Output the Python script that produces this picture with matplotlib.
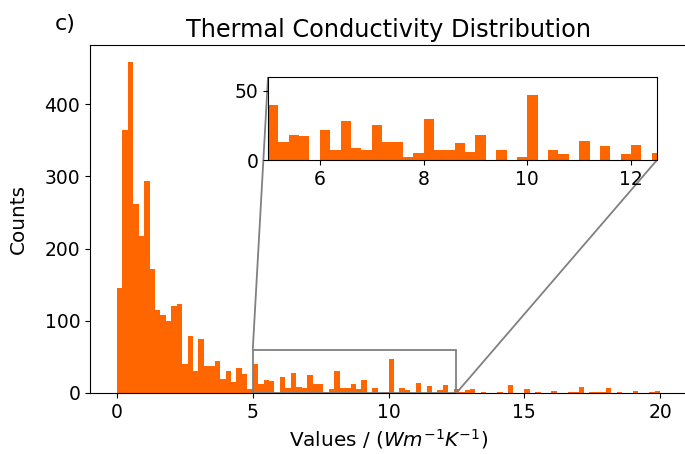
import numpy as np
import matplotlib
matplotlib.use('Agg')
import matplotlib.pyplot as plt
from mpl_toolkits.axes_grid1.inset_locator import mark_inset

# histogram bin edges (0.2 wide, 0 to 20) and counts
bin_edges = np.round(np.arange(0, 20.0001, 0.2), 1)
counts = [
    145, 364, 459, 262, 218, 293, 172, 115, 108, 100,
    120, 123, 40, 79, 31, 75, 37, 37, 44, 20,
    31, 15, 34, 27, 6, 40, 13, 18, 17, 0,
    22, 7, 28, 9, 7, 25, 13, 13, 2, 5,
    30, 7, 7, 12, 6, 18, 0, 7, 0, 2,
    47, 0, 7, 4, 0, 14, 0, 10, 0, 4,
    11, 0, 5, 1, 4, 6, 0, 2, 0, 0,
    2, 0, 11, 0, 0, 5, 0, 2, 0, 0,
    3, 0, 0, 1, 1, 8, 0, 1, 1, 1,
    7, 0, 1, 0, 0, 3, 0, 0, 2, 3,
]
bin_mids = (bin_edges[:-1] + bin_edges[1:]) / 2

main_xticks = [0, 5, 10, 15, 20]
main_yticks = [0, 100, 200, 300, 400]
inset_xlim = (5, 12.5)
inset_ylim = (0, 60)
inset_xticks = [6, 8, 10, 12]
inset_yticks = [0, 50]

color = '#ff6600'

fig = plt.figure(figsize=(6.85, 4.54), dpi=100)
# main axes runs past the right edge of the figure (cropped like the original)
ax = fig.add_axes([90/685, 61/454, 620/685, 348/454])
ax.hist(bin_mids, bins=bin_edges, weights=counts, color=color)
ax.set_xlim(-0.995, 21.84)
ax.set_xticks(main_xticks)
ax.set_yticks(main_yticks)
ax.tick_params(labelsize=13.5)
ax.set_xlabel(r'Values / ($Wm^{-1}K^{-1}$)', fontsize=14.4, x=(389 - 90) / 620)
ax.set_ylabel('Counts', fontsize=14.4, labelpad=12)
ax.set_title('Thermal Conductivity Distribution', fontsize=17.3, x=(389 - 90) / 620)
fig.text(55/685, 1 - 24/454, 'c)', fontsize=16, va='center')

axins = fig.add_axes([268/685, 294/454, 389/685, 83/454])
axins.hist(bin_mids, bins=bin_edges, weights=counts, color=color)
axins.set_xlim(*inset_xlim)
axins.set_ylim(*inset_ylim)
axins.set_xticks(inset_xticks)
axins.set_yticks(inset_yticks)
axins.tick_params(labelsize=13.5)

mark_inset(ax, axins, loc1=2, loc2=4, fc='none', ec='0.5', lw=1.3)

fig.savefig('out.png', dpi=100)
